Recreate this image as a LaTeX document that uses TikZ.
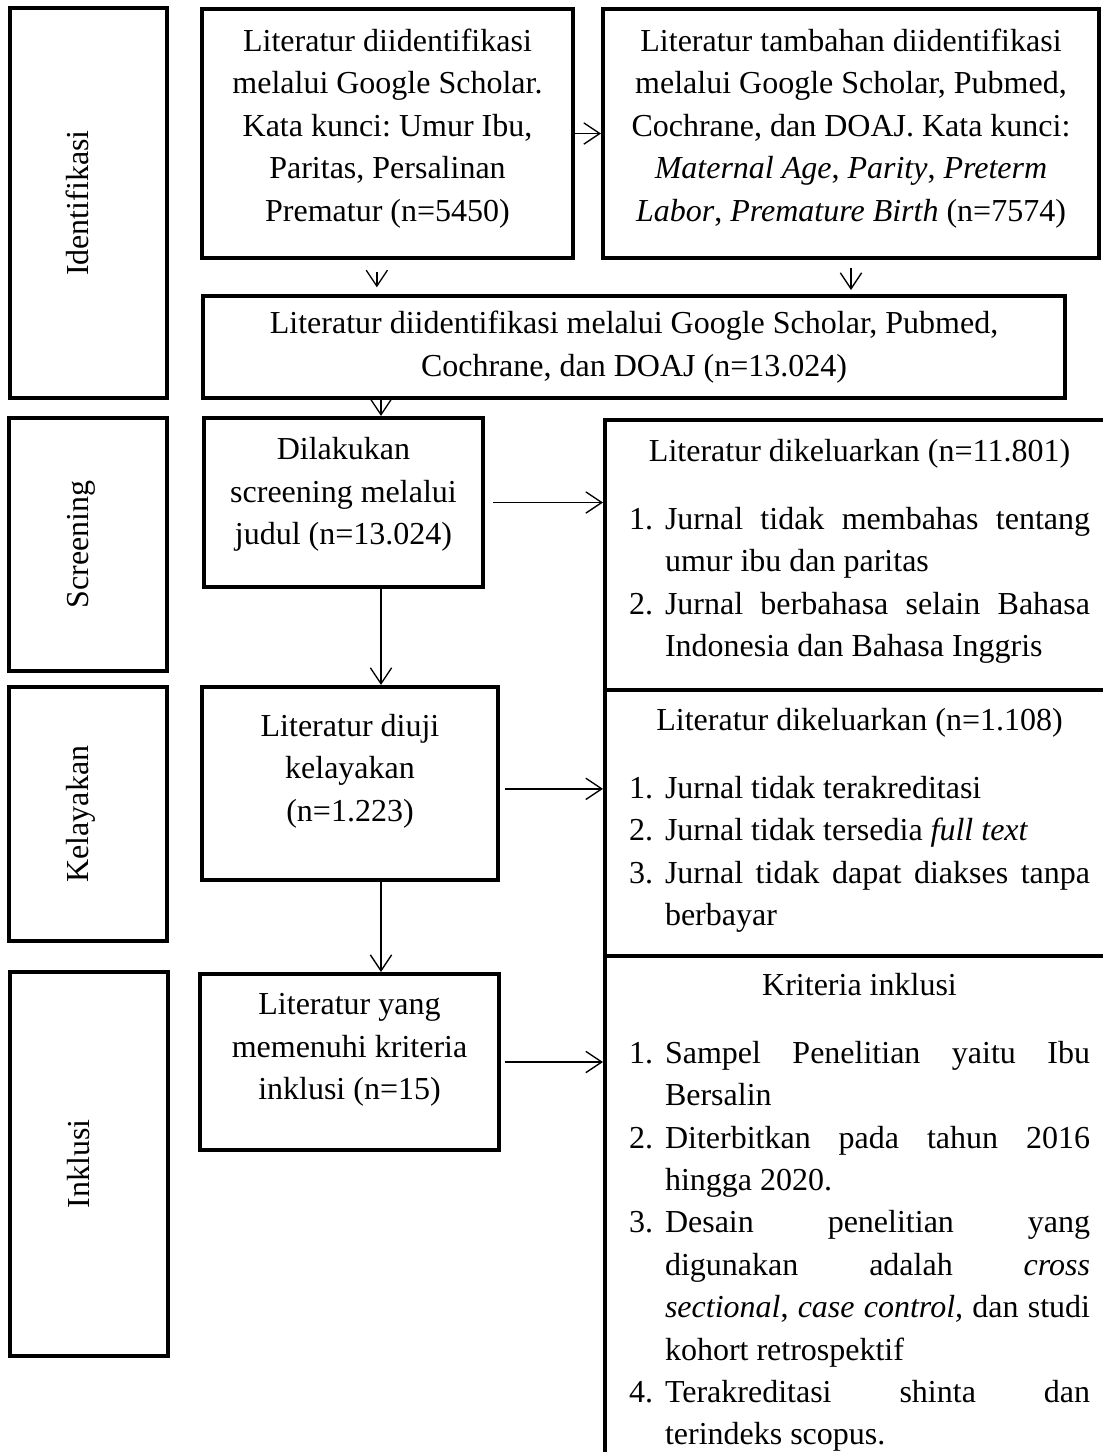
\documentclass[tikz,border=0pt]{standalone}
\usepackage{fontspec}
\setmainfont{Liberation Serif}
\usetikzlibrary{arrows.meta}
\frenchspacing
\newcommand{\Pad}[1]{\rule[-#1]{0pt}{#1}}
\newcommand{\Entry}[1]{\par\hangindent=13.5pt\hangafter=1\noindent\makebox[13.5pt][l]{#1.}}

\begin{document}
\begin{tikzpicture}[x=0.375pt, y=-0.375pt,
  font=\fontsize{12pt}{15.9pt}\selectfont,
  stage/.style={draw, line width=1.5pt, rotate=90, minimum height=58.9pt, text height=8pt, text depth=8pt},
  flow/.style={draw, line width=1.5pt, align=center, inner sep=0pt},
  outbox/.style={draw, line width=1.5pt, anchor=north west, text width=172.9pt, align=justify, inner xsep=9pt, inner ysep=6.4pt},
  arr/.style={-{Straight Barb[length=6pt,width=8pt]}, line width=0.5pt}]
\useasboundingbox (0,0) rectangle (1102,1452);
\coordinate (lane) at (381,0);

\node [stage, minimum width=146.25pt] (idn) at (88.5,203) {Identifikasi};
\node [stage, minimum width=94.9pt] (scr) at (88,544.5) {Screening};
\node [stage, minimum width=95.25pt] (kel) at (88,814) {Kelayakan};
\node [stage, minimum width=144pt] (ink) at (89,1164) {Inklusi};

\node [flow, minimum width=139.1pt, minimum height=93.4pt] (gs) at (387.5,133.5)
  {Literatur diidentifikasi\\ melalui Google Scholar.\\ Kata kunci: Umur Ibu,\\ Paritas, Persalinan\\ Prematur (n=5450)\Pad{6.4pt}};
\node [flow, minimum width=186pt, minimum height=93.4pt] (db) at (851,133.5)
  {Literatur tambahan diidentifikasi\\ melalui Google Scholar, Pubmed,\\ Cochrane, dan DOAJ. Kata kunci:\\
   \textit{Maternal Age}, \textit{Parity}, \textit{Preterm}\\ \textit{Labor}, \textit{Premature Birth} (n=7574)\Pad{6.4pt}};
\node [flow, minimum width=323.6pt, minimum height=38.25pt] (all) at (634,347)
  {Literatur diidentifikasi melalui Google Scholar, Pubmed,\\ Cochrane, dan DOAJ (n=13.024)};
\node [flow, minimum width=104.6pt, minimum height=63.4pt] (judul) at (343.5,502.5)
  {Dilakukan\\ screening melalui\\ judul (n=13.024)\Pad{8.6pt}};
\node [flow, minimum width=111pt, minimum height=72.4pt] (uji) at (350,783.5)
  {Literatur diuji\\ kelayakan\\ (n=1.223)\Pad{12pt}};
\node [flow, minimum width=112.1pt, minimum height=66pt] (hasil) at (349.5,1062)
  {Literatur yang\\ memenuhi kriteria\\ inklusi (n=15)\Pad{11.6pt}};

\node [outbox, minimum height=101.25pt] (out1) at (603,418)
  {\makebox[\hsize][c]{Literatur dikeluarkan (n=11.801)}\par\vspace{9.6pt}
   \Entry{1}Jurnal tidak membahas tentang\linebreak umur ibu dan paritas
   \Entry{2}Jurnal berbahasa selain Bahasa\linebreak Indonesia dan Bahasa Inggris\Pad{5.3pt}\par};
\node [outbox, minimum height=99.75pt] (out2) at (603,688)
  {\makebox[\hsize][c]{Literatur dikeluarkan (n=1.108)}\par\vspace{9.6pt}
   \Entry{1}Jurnal tidak terakreditasi
   \Entry{2}Jurnal tidak tersedia \textit{full text}
   \Entry{3}Jurnal tidak dapat diakses tanpa\linebreak berbayar\Pad{4.5pt}\par};
\node [outbox] (krit) at (603,954)
  {\makebox[\hsize][c]{Kriteria inklusi}\par\vspace{9.6pt}
   \Entry{1}Sampel Penelitian yaitu Ibu\linebreak Bersalin
   \Entry{2}Diterbitkan pada tahun 2016\linebreak hingga 2020.
   \Entry{3}Desain penelitian yang\linebreak digunakan adalah \textit{cross}\linebreak
     \textit{sectional}, \textit{case control,} dan studi\linebreak kohort retrospektif
   \Entry{4}Terakreditasi shinta dan\linebreak terindeks scopus.\Pad{12pt}\par};

\draw [arr] (gs) -- (db);
\draw [arr, shorten <=4.5pt, shorten >=2.5pt] ([xshift=-4pt]gs.south) -- ([xshift=-4pt]gs.south |- all.north);
\draw [arr, shorten <=3pt, shorten >=1.5pt] (db.south) -- (db.south |- all.north);
\draw [arr] (all.south -| lane) -- (judul.north -| lane);
\draw [arr] (judul.south -| lane) -- (uji.north -| lane);
\draw [arr] (uji.south -| lane) -- (hasil.north -| lane);
\draw [arr] ([xshift=3pt]judul.east) -- (judul.east -| out1.west);
\draw [arr] ([xshift=2pt,yshift=-2pt]uji.east) -- ([yshift=-2pt]uji.east -| out2.west);
\draw [arr] ([xshift=1.5pt]hasil.east) -- (hasil.east -| krit.west);
\end{tikzpicture}
\end{document}
